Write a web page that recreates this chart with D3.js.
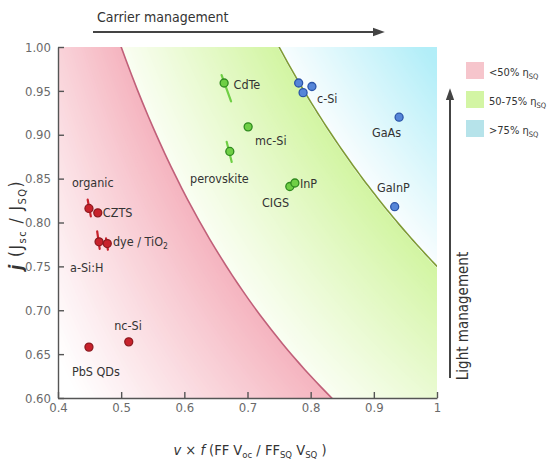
<!DOCTYPE html>
<html>
<head>
<meta charset="utf-8">
<script src="https://cdn.jsdelivr.net/npm/d3@7"></script>
<style>
  body { margin: 0; background: #fff; }
  svg { font-family: "DejaVu Sans Condensed", "DejaVu Sans", sans-serif; font-stretch: condensed; }
</style>
</head>
<body>
<script>
// chart data
var xTicks = [0.4, 0.5, 0.6, 0.7, 0.8, 0.9, 1];
var yTicks = [0.60, 0.65, 0.70, 0.75, 0.80, 0.85, 0.90, 0.95, 1.00];

// iso-efficiency limits (fraction of SQ efficiency)
var effLimits = [0.5, 0.75];
var legendLabels = ["<50% \u03b7", "50-75% \u03b7", ">75% \u03b7"];

// cells: [v*f, j, group]  group 0 = <50%, 1 = 50-75%, 2 = >75%
var cells = [
  [0.449, 0.816, 0], // organic
  [0.463, 0.811, 0], // CZTS
  [0.465, 0.778, 0], // a-Si:H
  [0.478, 0.776, 0], // dye / TiO2
  [0.512, 0.664, 0], // nc-Si
  [0.449, 0.658, 0], // PbS QDs
  [0.663, 0.959, 1], // CdTe
  [0.701, 0.909, 1], // mc-Si
  [0.672, 0.881, 1], // perovskite
  [0.767, 0.841, 1], // CIGS
  [0.775, 0.845, 1], // InP
  [0.781, 0.959, 2], // c-Si
  [0.802, 0.955, 2], // c-Si
  [0.788, 0.948, 2], // c-Si
  [0.940, 0.920, 2], // GaAs
  [0.933, 0.818, 2]  // GaInP
];

// spread of some cells: [x1, j1, x2, j2, group]
var spreads = [
  [0.447, 0.826, 0.452, 0.807, 0],
  [0.462, 0.790, 0.466, 0.770, 0],
  [0.476, 0.782, 0.479, 0.769, 0],
  [0.659, 0.968, 0.674, 0.938, 1],
  [0.667, 0.892, 0.675, 0.869, 1]
];

// material names: [text, v*f, j]  (text anchor, baseline)
var names = [
  ["organic", 0.422, 0.840],
  ["CZTS", 0.471, 0.806],
  ["a-Si:H", 0.419, 0.744],
  ["nc-Si", 0.489, 0.677],
  ["PbS QDs", 0.422, 0.625],
  ["CdTe", 0.678, 0.952],
  ["mc-Si", 0.712, 0.888],
  ["perovskite", 0.609, 0.845],
  ["InP", 0.783, 0.839],
  ["CIGS", 0.723, 0.818],
  ["c-Si", 0.810, 0.936],
  ["GaAs", 0.897, 0.898],
  ["GaInP", 0.905, 0.835]
];

var W = 547, H = 463;
var svg = d3.select("body").append("svg")
    .attr("width", W)
    .attr("height", H);

var x = d3.scaleLinear().domain([0.4, 1]).range([58, 437]);
var y = d3.scaleLinear().domain([0.6, 1]).range([398, 47]);

// clip to plot area
svg.append("clipPath").attr("id", "plotclip")
  .append("rect")
    .attr("x", x(0.4)).attr("y", y(1))
    .attr("width", x(1) - x(0.4)).attr("height", y(0.6) - y(1));

var pink = d3.scaleLinear().domain([0.26, 0.5]).range(["#ffffff", "#f5b4bf"]).clamp(true);
var green = d3.scaleLinear().domain([0.5, 0.75]).range(["#fafef3", "#d2f5a2"]);
var blue = d3.scaleLinear().domain([0.75, 0.98]).range(["#f8fdfe", "#b2eef8"]).clamp(true);
function bandColor(e) {
  if (e < effLimits[0]) return pink(e);
  if (e < effLimits[1]) return green(e);
  return blue(e);
}

var curve = d3.line()
    .x(function(d) { return x(d[0]); })
    .y(function(d) { return y(d[1]); });

function isoPts(e) {
  var a = e / 1.02, b = 1.02, n = 60;
  return d3.range(n + 1).map(function(i) {
    var v = a + (b - a) * i / n;
    return [v, e / v];
  });
}

// background shading, painted from low to high efficiency
var bg = svg.append("g").attr("clip-path", "url(#plotclip)");
var levels = d3.range(0.24, 1.0, 0.004);
levels.forEach(function(e) {
  var pts = isoPts(e);
  pts.push([1.02, 1.02]);
  bg.append("path")
    .attr("d", curve(pts) + "Z")
    .attr("fill", bandColor(e + 0.002))
    .attr("stroke", "none");
});

// limit lines
var limitColors = ["#c06079", "#7f9c33"];
effLimits.forEach(function(e, i) {
  bg.append("path")
    .attr("d", curve(isoPts(e)))
    .attr("fill", "none")
    .attr("stroke", limitColors[i])
    .attr("stroke-width", 1.6);
});

// axes
var yAxis = svg.append("g")
    .attr("transform", "translate(" + x(0.4) + ",0)")
    .call(d3.axisLeft(y).tickValues(yTicks).tickFormat(d3.format(".2f"))
      .tickSize(-6).tickSizeOuter(0).tickPadding(7));
var xAxis = svg.append("g")
    .attr("transform", "translate(0," + y(0.6) + ")")
    .call(d3.axisBottom(x).tickValues(xTicks).tickFormat(function(d) { return d === 1 ? "1" : d3.format(".1f")(d); })
      .tickSize(-6).tickSizeOuter(0).tickPadding(5));
[xAxis, yAxis].forEach(function(a) {
  a.select(".domain").attr("stroke", "#555").attr("stroke-width", 1.4);
  a.selectAll(".tick line").attr("stroke", "#555").attr("stroke-width", 1.4);
  a.selectAll(".tick text").attr("fill", "#6a6a6a").attr("font-size", 13)
    .attr("font-family", "'DejaVu Sans Condensed', 'DejaVu Sans', sans-serif");
});

// marks
var markFill = ["#c8222c", "#6fcf45", "#5585d8"];
var markStroke = ["#8e1a20", "#2f8a1f", "#2c55a8"];

svg.append("g").selectAll("line")
  .data(spreads)
  .enter().append("line")
    .attr("x1", function(d) { return x(d[0]); })
    .attr("y1", function(d) { return y(d[1]); })
    .attr("x2", function(d) { return x(d[2]); })
    .attr("y2", function(d) { return y(d[3]); })
    .attr("stroke", function(d) { return markFill[d[4]]; })
    .attr("stroke-width", 2.2)
    .attr("stroke-linecap", "round");

svg.append("g").selectAll("circle")
  .data(cells)
  .enter().append("circle")
    .attr("cx", function(d) { return x(d[0]); })
    .attr("cy", function(d) { return y(d[1]); })
    .attr("r", 4)
    .attr("fill", function(d) { return markFill[d[2]]; })
    .attr("stroke", function(d) { return markStroke[d[2]]; })
    .attr("stroke-width", 1.3);

// material names
svg.append("g").selectAll("text")
  .data(names)
  .enter().append("text")
    .attr("x", function(d) { return x(d[1]); })
    .attr("y", function(d) { return y(d[2]); })
    .attr("font-size", 12.5)
    .attr("fill", "#333")
    .text(function(d) { return d[0]; });

// dye / TiO2 with subscript
var dye = svg.append("text")
    .attr("x", x(0.487)).attr("y", y(0.773))
    .attr("font-size", 12.5).attr("fill", "#333");
dye.append("tspan").text("dye / TiO");
dye.append("tspan").attr("dy", 3).attr("font-size", 8.5).text("2");

// axis titles
var xt = svg.append("text")
    .attr("x", 250).attr("y", 455)
    .attr("text-anchor", "middle")
    .attr("font-size", 14.5).attr("fill", "#333");
xt.append("tspan").attr("font-style", "italic").text("v");
xt.append("tspan").text(" \u00d7 ");
xt.append("tspan").attr("font-style", "italic").text("f");
xt.append("tspan").text("  (FF V");
xt.append("tspan").attr("dy", 3).attr("font-size", 9.5).text("oc");
xt.append("tspan").attr("dy", -3).text(" / FF");
xt.append("tspan").attr("dy", 3).attr("font-size", 9.5).text("SQ");
xt.append("tspan").attr("dy", -3).text(" V");
xt.append("tspan").attr("dy", 3).attr("font-size", 9.5).text("SQ");
xt.append("tspan").attr("dy", -3).text(" )");

var yt = svg.append("text")
    .attr("transform", "translate(22,225) rotate(-90)")
    .attr("text-anchor", "middle")
    .attr("font-size", 17).attr("letter-spacing", 1.5).attr("fill", "#333");
yt.append("tspan").attr("font-style", "italic").attr("font-weight", "bold").text("j");
yt.append("tspan").text(" (J");
yt.append("tspan").attr("dy", 4).attr("font-size", 11).text("sc");
yt.append("tspan").attr("dy", -4).text(" / J");
yt.append("tspan").attr("dy", 4).attr("font-size", 11).text("SQ");
yt.append("tspan").attr("dy", -4).text(")");

// arrows
svg.append("defs").append("marker")
    .attr("id", "head")
    .attr("viewBox", "0 0 10 10")
    .attr("refX", 1).attr("refY", 5)
    .attr("markerWidth", 6).attr("markerHeight", 6)
    .attr("orient", "auto")
  .append("path")
    .attr("d", "M0,1.5 L10,5 L0,8.5 Z")
    .attr("fill", "#444");

svg.append("line")
    .attr("x1", 93).attr("y1", 32).attr("x2", 374).attr("y2", 32)
    .attr("stroke", "#444").attr("stroke-width", 2)
    .attr("marker-end", "url(#head)");
svg.append("text")
    .attr("x", 97).attr("y", 22)
    .attr("font-size", 14).attr("fill", "#333")
    .text("Carrier management");

svg.append("line")
    .attr("x1", 450).attr("y1", 378).attr("x2", 450).attr("y2", 99)
    .attr("stroke", "#444").attr("stroke-width", 2)
    .attr("marker-end", "url(#head)");
svg.append("text")
    .attr("transform", "translate(468,316) rotate(-90)")
    .attr("text-anchor", "middle")
    .attr("font-size", 15).attr("fill", "#333")
    .text("Light management");

// legend
var legendColors = ["#f6c5cc", "#d3f5a4", "#b6e3ea"];
var lg = svg.append("g").selectAll("g")
  .data(legendLabels)
  .enter().append("g")
    .attr("transform", function(d, i) { return "translate(466," + (62 + i * 29) + ")"; });
lg.append("rect")
    .attr("width", 18).attr("height", 17)
    .attr("fill", function(d, i) { return legendColors[i]; });
var lt = lg.append("text")
    .attr("x", 23).attr("y", 14)
    .attr("font-size", 11).attr("fill", "#333");
lt.append("tspan").text(function(d) { return d; });
lt.append("tspan").attr("dy", 3).attr("font-size", 7.5).text("SQ");
</script>
</body>
</html>
